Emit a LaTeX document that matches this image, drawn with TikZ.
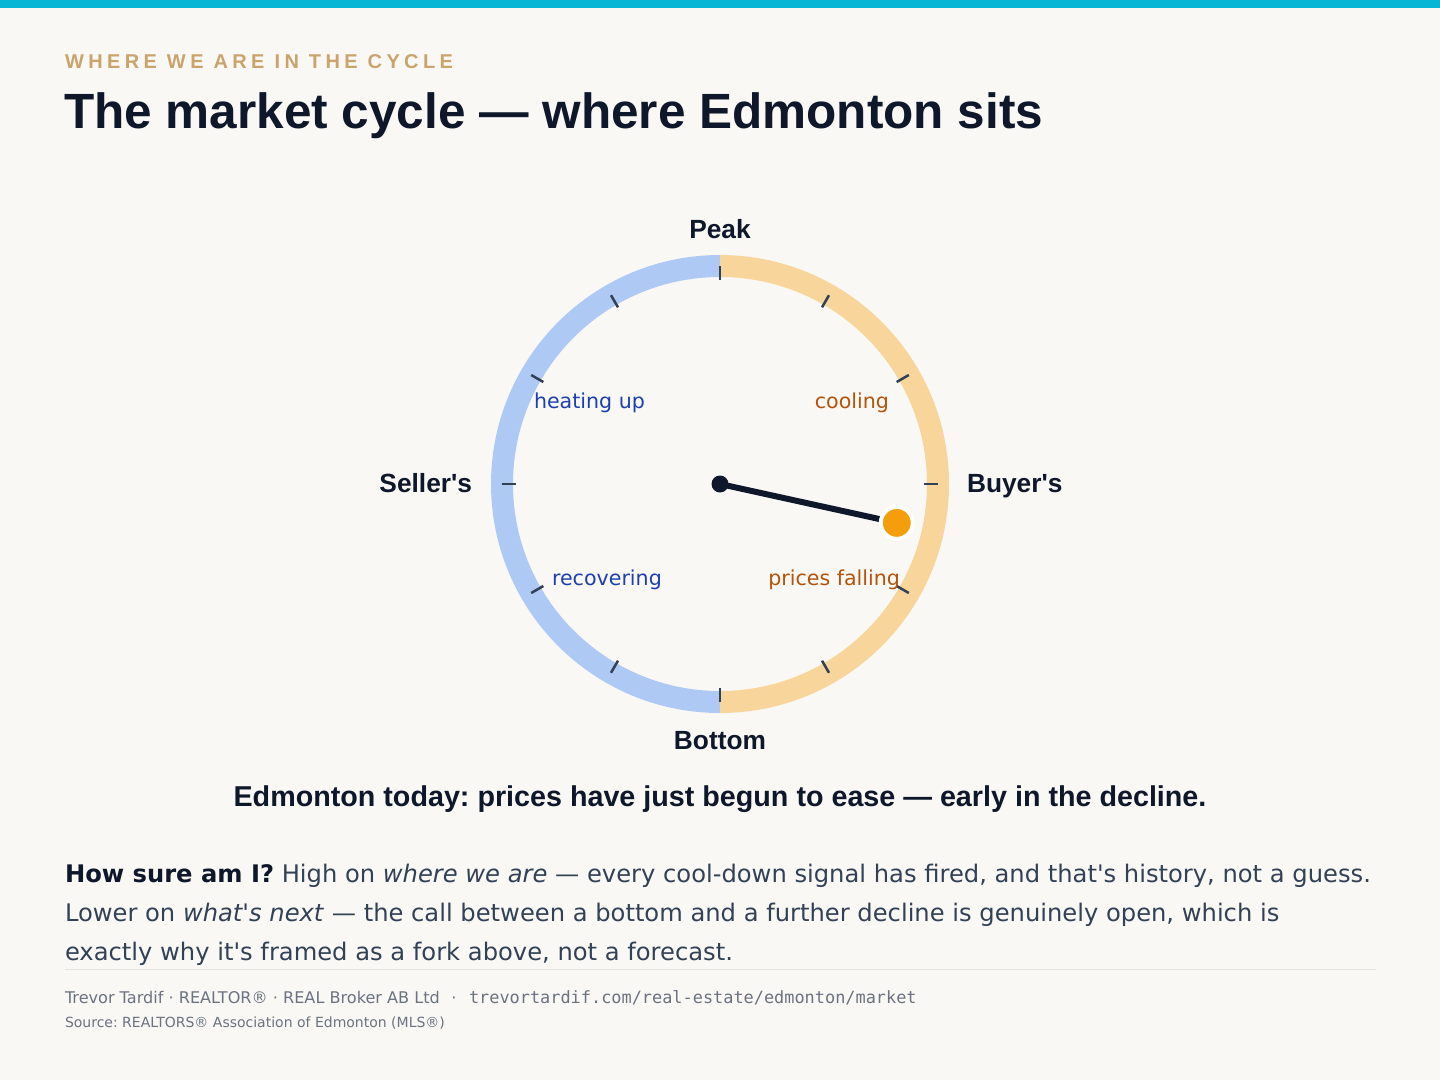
\documentclass[tikz,border=0pt]{standalone}
\usepackage{fontspec}
\setmainfont{DejaVu Sans}
\setmonofont{DejaVu Sans Mono}
\newfontfamily\bodyfont{DejaVu Sans}
\newfontfamily\headfont{Liberation Sans}
\newfontfamily\kickerfont[LetterSpace=22]{Liberation Sans}
\newcommand{\setfs}[1]{\fontsize{#1}{#1}\selectfont}
\frenchspacing
\definecolor{paper}{HTML}{F9F8F5}
\definecolor{topbar}{HTML}{06B6D4}
\definecolor{kicker}{HTML}{C9A46C}
\definecolor{ink}{HTML}{0F172A}
\definecolor{bodytxt}{HTML}{334155}
\definecolor{muted}{HTML}{6B7280}
\definecolor{hairline}{HTML}{E6E4E0}
\definecolor{seller}{HTML}{AFC9F5}
\definecolor{buyer}{HTML}{F8D59A}
\definecolor{tickc}{HTML}{334155}
\definecolor{bluetxt}{HTML}{1E40AF}
\definecolor{ambertxt}{HTML}{B45309}
\definecolor{dotc}{HTML}{F59E0B}
\begin{document}
\begin{tikzpicture}[x=1pt, y=-1pt,
    txt/.style={inner sep=0pt, outer sep=0pt},
    cardinal/.style={txt, text=ink, font=\headfont\bfseries\setfs{26.3}},
    phase/.style={txt, font=\bodyfont\setfs{20.6}},
    para/.style={txt, anchor=base west, text=bodytxt, font=\bodyfont\setfs{24.2}},
    tickmark/.style={tickc, line width=2.5pt},
    hubdot/.style={circle, fill=ink, inner sep=0pt, minimum size=17pt},
    nowdot/.style={circle, fill=dotc, draw=white, line width=4pt, inner sep=0pt, minimum size=32pt}
    ]
        \pgfmathsetmacro{\R}{218};
        \pgfmathsetmacro{\rin}{204};
        \pgfmathsetmacro{\now}{-12.4};
        \fill[paper] (0,0) rectangle (1440,1080);
        \fill[topbar] (0,0) rectangle (1440,8);
        \node[txt, anchor=base west, text=kicker, font=\kickerfont\bfseries\setfs{20}] (kick) at (65,68) {WHERE WE ARE IN THE CYCLE};
        \node[txt, anchor=base west, text=ink, font=\headfont\bfseries\setfs{49.5}] (title) at (64,128) {The market cycle — where Edmonton sits};
        \begin{scope}[shift={(720,484)}, y=1pt]
            \draw[seller, line width=22pt] (90:\R) arc[start angle=90, end angle=270, radius=\R];
            \draw[buyer, line width=22pt] (-90:\R) arc[start angle=-90, end angle=90, radius=\R];
            \foreach \a in {0,30,...,330}
                \draw[tickmark] (\a:\rin) -- (\a:\R);
            \coordinate (hubpt) at (0,0);
            \coordinate (nowpt) at (\now:181);
            \draw[ink, line width=6pt] (hubpt) -- (nowpt);
            \node[hubdot] (hub) at (hubpt) {};
            \node[nowdot] (today) at (nowpt) {};
        \end{scope}
        \node[cardinal, anchor=base] (peak) at (720,238) {Peak};
        \node[cardinal, anchor=base east] (sellers) at (472,492) {Seller's};
        \node[cardinal, anchor=base west] (buyers) at (967,492) {Buyer's};
        \node[cardinal, anchor=base] (bottom) at (720,749) {Bottom};
        \node[phase, text=bluetxt, anchor=base west] (heating) at (534,408) {heating up};
        \node[phase, text=ambertxt, anchor=base east] (cooling) at (889,408) {cooling};
        \node[phase, text=bluetxt, anchor=base west] (recovering) at (552,585) {recovering};
        \node[phase, text=ambertxt, anchor=base east] (falling) at (900,585) {prices falling};
        \node[txt, anchor=base, text=ink, font=\headfont\bfseries\setfs{28.7}] (caption) at (720,806) {Edmonton today: prices have just begun to ease — early in the decline.};
        \node[para] (line1) at (65,882) {\textcolor{ink}{\bfseries How sure am I?} High on \textit{where we are} — every cool-down signal has fired, and that's history, not a guess.};
        \node[para] (line2) at (65,921) {Lower on \textit{what's next} — the call between a bottom and a further decline is genuinely open, which is};
        \node[para] (line3) at (65,960) {exactly why it's framed as a fork above, not a forecast.};
        \draw[hairline, line width=1pt] (65,969) -- (1376,969);
        \node[txt, anchor=base west, text=muted, font=\bodyfont\setfs{16.1}] (credit) at (65,1003) {Trevor Tardif · REALTOR® · REAL Broker AB Ltd};
        \node[txt, anchor=base, text=muted, font=\bodyfont\setfs{16.1}] (sep) at (454,1003) {·};
        \node[txt, anchor=base west, text=muted, font=\ttfamily\setfs{16.9}] (url) at (469,1003) {trevortardif.com/real-estate/edmonton/market};
        \node[txt, anchor=base west, text=muted, font=\bodyfont\setfs{14}] (source) at (65,1027) {Source: REALTORS® Association of Edmonton (MLS®)};
\end{tikzpicture}
\end{document}
